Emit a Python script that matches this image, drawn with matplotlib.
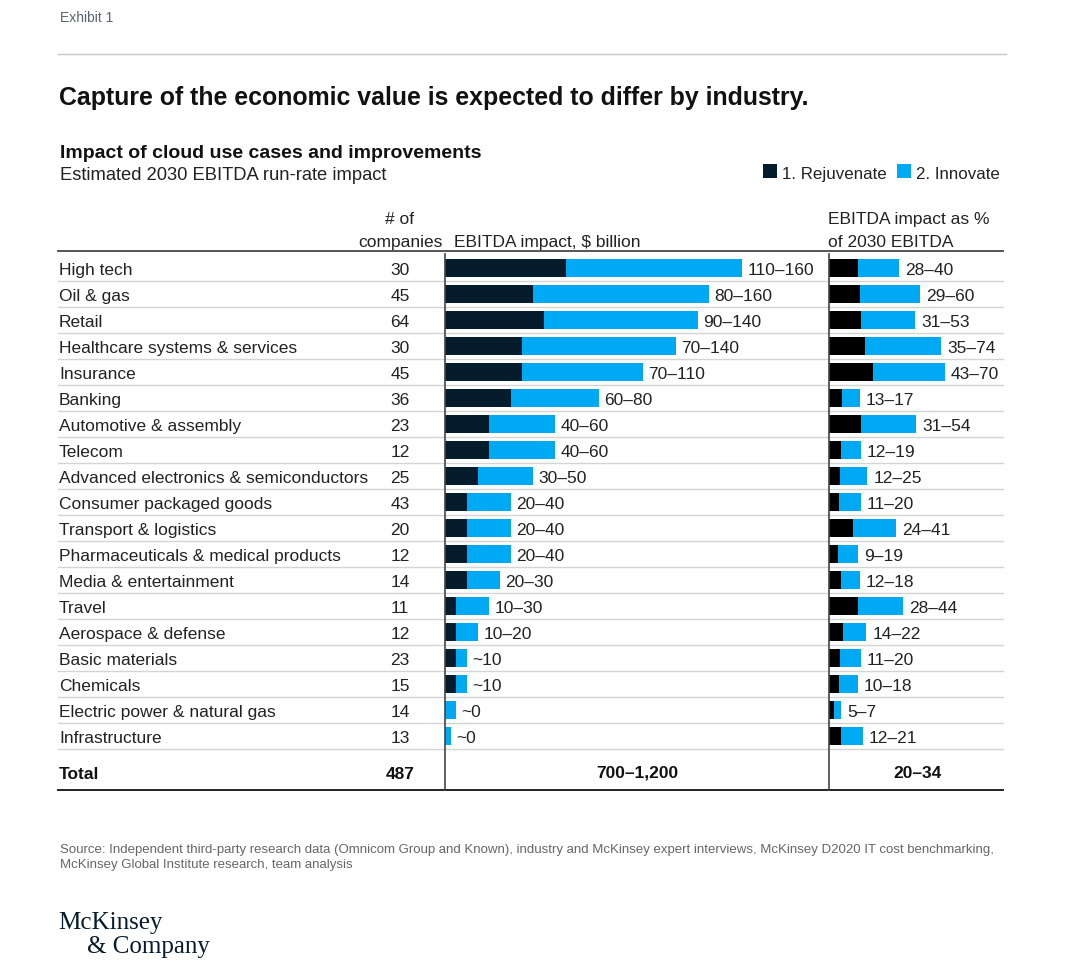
import matplotlib
matplotlib.use("Agg")
import matplotlib.pyplot as plt
from matplotlib.lines import Line2D
from matplotlib.patches import Rectangle

plt.rcParams['font.family'] = ['Liberation Sans', 'DejaVu Sans']

# ---------------- data ----------------
industries = ["High tech", "Oil & gas", "Retail", "Healthcare systems & services", "Insurance",
              "Banking", "Automotive & assembly", "Telecom", "Advanced electronics & semiconductors",
              "Consumer packaged goods", "Transport & logistics", "Pharmaceuticals & medical products",
              "Media & entertainment", "Travel", "Aerospace & defense", "Basic materials", "Chemicals",
              "Electric power & natural gas", "Infrastructure"]
companies = [30, 45, 64, 30, 45, 36, 23, 12, 25, 43, 20, 12, 14, 11, 12, 23, 15, 14, 13]

usd_rejuvenate = [55, 40, 45, 35, 35, 30, 20, 20, 15, 10, 10, 10, 10, 5, 5, 5, 5, 0, 0]
usd_innovate = [80, 80, 70, 70, 55, 40, 30, 30, 25, 20, 20, 20, 15, 15, 10, 5, 5, 5, 2.5]
usd_labels = ["110–160", "80–160", "90–140", "70–140", "70–110", "60–80", "40–60", "40–60",
              "30–50", "20–40", "20–40", "20–40", "20–30", "10–30", "10–20", "~10", "~10", "~0", "~0"]

pct_rejuvenate = [14, 15, 15.5, 17.5, 21.5, 6.5, 15.5, 6, 5.5, 5, 11.5, 4.5, 6, 14, 7, 5.5, 5, 2.5, 6]
pct_innovate = [20, 29.5, 26.5, 37, 35, 8.5, 27, 9.5, 13, 10.5, 21, 9.5, 9, 22, 11, 10, 9, 3.5, 10.5]
pct_labels = ["28–40", "29–60", "31–53", "35–74", "43–70", "13–17", "31–54", "12–19", "12–25",
              "11–20", "24–41", "9–19", "12–18", "28–44", "14–22", "11–20", "10–18", "5–7", "12–21"]

total_companies = "487"
total_usd = "700–1,200"
total_pct = "20–34"

# ---------------- layout helpers ----------------
W, H = 1080, 979
fig = plt.figure(figsize=(W / 100, H / 100), dpi=100)
fig.patch.set_facecolor("white")

def fx(x):
    return x / W

def fy(y):
    return 1 - y / H

def ftext(x, y, s, **kw):
    kw.setdefault("color", "#222222")
    kw.setdefault("va", "center_baseline")
    return fig.text(fx(x), fy(y), s, **kw)

def hline(y, x0, x1, color, lw):
    fig.add_artist(Line2D([fx(x0), fx(x1)], [fy(y), fy(y)], transform=fig.transFigure,
                          color=color, lw=lw))

def vline(x, y0, y1, color, lw):
    fig.add_artist(Line2D([fx(x), fx(x)], [fy(y0), fy(y1)], transform=fig.transFigure,
                          color=color, lw=lw))

DARK = "#051C2C"
BLUE = "#00A9F4"
TXT = "#222222"
FS = 12.5

# header
ftext(60, 17, "Exhibit 1", fontsize=10, color="#5a6470")
hline(55, 58, 1006, "#c8c8c8", 1.0)
ftext(59, 95, "Capture of the economic value is expected to differ by industry.",
      fontsize=17.9, fontweight="bold", color="#111111")
ftext(60, 152, "Impact of cloud use cases and improvements", fontsize=14,
      fontweight="bold", color="#111111")
ftext(60, 174, "Estimated 2030 EBITDA run-rate impact", fontsize=13.2, color=TXT)

# legend
fig.add_artist(Rectangle((fx(763), fy(179)), fx(14), 14 / H, transform=fig.transFigure,
                         color=DARK, lw=0))
ftext(782, 173, "1. Rejuvenate", fontsize=12.2, color=TXT)
fig.add_artist(Rectangle((fx(897), fy(179)), fx(14), 14 / H, transform=fig.transFigure,
                         color=BLUE, lw=0))
ftext(916, 173, "2. Innovate", fontsize=12.2, color=TXT)

# column headers
ftext(400, 218, "# of", fontsize=FS, ha="center", color=TXT)
ftext(400, 241, "companies", fontsize=FS, ha="center", color=TXT)
ftext(454, 241, "EBITDA impact, $ billion", fontsize=FS, color=TXT)
ftext(828, 218, "EBITDA impact as %", fontsize=FS, color=TXT)
ftext(828, 241, "of 2030 EBITDA", fontsize=FS, color=TXT)

# rows
row_top = 256
row_h = 26
n = len(industries)
for i, (name, c) in enumerate(zip(industries, companies)):
    yc = row_top + row_h * (i + 0.5)
    ftext(59, yc, name, fontsize=FS, color=TXT)
    ftext(400, yc, str(c), fontsize=FS, ha="center", color=TXT)
    hline(row_top + row_h * (i + 1), 58, 1003, "#d4d4d4", 1.0)

# top / bottom lines
hline(252, 58, 1003, "#555555", 1.4)
hline(791, 58, 1003, "#222222", 1.4)

# totals
ftext(59, 773, "Total", fontsize=FS, fontweight="bold", color="#111111")
ftext(400, 773, total_companies, fontsize=FS, fontweight="bold", ha="center", color="#111111")
ftext(637, 772, total_usd, fontsize=FS, fontweight="bold", ha="center", color="#111111")
ftext(917, 772, total_pct, fontsize=FS, fontweight="bold", ha="center", color="#111111")

# ---------------- bar panels ----------------
ax_top = row_top
ax_h = row_h * n

def make_ax(x0, x1, xmax):
    ax = fig.add_axes([fx(x0), fy(ax_top + ax_h), (x1 - x0) / W, ax_h / H])
    ax.set_xlim(0, xmax)
    ax.set_ylim(n - 0.5, -0.5)
    ax.axis("off")
    ax.patch.set_alpha(0)
    return ax

ax1 = make_ax(445, 829, 384 / 2.2)
ax2 = make_ax(829, 1003, 174 / 2.05)

ypos = list(range(n))
bh = 0.72
ax1.barh(ypos, usd_rejuvenate, height=bh, color=DARK, lw=0)
ax1.barh(ypos, usd_innovate, left=usd_rejuvenate, height=bh, color=BLUE, lw=0)
for i in range(n):
    end = usd_rejuvenate[i] + usd_innovate[i]
    ax1.annotate(usd_labels[i], (end, i), xytext=(3.8, 0), textcoords="offset points",
                 va="center_baseline", ha="left", fontsize=FS, color=TXT)

ax2.barh(ypos, pct_rejuvenate, height=bh, color="#000000", lw=0)
ax2.barh(ypos, pct_innovate, left=pct_rejuvenate, height=bh, color=BLUE, lw=0)
for i in range(n):
    end = pct_rejuvenate[i] + pct_innovate[i]
    ax2.annotate(pct_labels[i], (end, i), xytext=(4.5, 0), textcoords="offset points",
                 va="center_baseline", ha="left", fontsize=FS, color=TXT)

# vertical dividers
vline(445, 255, 791, "#444444", 1.2)
vline(829, 255, 791, "#444444", 1.2)

# footer
ftext(60, 848, "Source: Independent third-party research data (Omnicom Group and Known), industry and "
      "McKinsey expert interviews, McKinsey D2020 IT cost benchmarking,",
      fontsize=9.5, color="#666666")
ftext(60, 864, "McKinsey Global Institute research, team analysis", fontsize=9.5, color="#666666")

ftext(58, 921, "McKinsey", fontsize=18, family="Liberation Serif", color=DARK)
ftext(87, 945, "& Company", fontsize=18, family="Liberation Serif", color=DARK)

fig.savefig("out.png", dpi=100, facecolor="white")
